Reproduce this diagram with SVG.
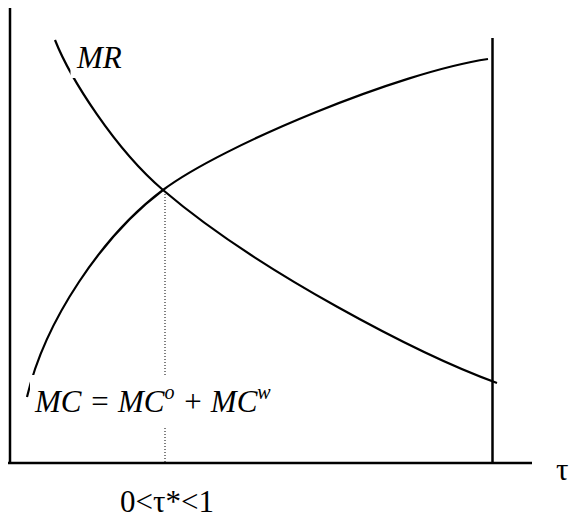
<svg xmlns="http://www.w3.org/2000/svg" width="572" height="521" viewBox="0 0 572 521">
<style>
.ax{stroke:#000;stroke-width:2.5;fill:none}
.cv{stroke:#000;stroke-width:2.2;fill:none}
.dot{stroke:#000;stroke-width:1;stroke-dasharray:1,2;fill:none}
text{font-family:"Liberation Serif","Times New Roman",serif;font-size:31px;fill:#000}
.i{font-style:italic}
</style>
<g id="axes">
<line class="ax" x1="10" y1="8" x2="10" y2="464"/>
<line class="ax" x1="8" y1="463" x2="532" y2="463"/>
<line class="ax" x1="492.5" y1="38" x2="492.5" y2="463"/>
</g>
<g id="connectors">
<path id="mr" class="cv" d="M55,40 C70,78 115,149 163,190 C259,272 420,355 497,383"/>
<path id="mc" class="cv" d="M27,397 C45,320 103,235 163,190 C223,145 400,72 488,59"/>
<line class="dot" x1="165" y1="191" x2="165" y2="463"/>
</g>
<g id="masks" fill="#fff">
<rect x="70.5" y="44" width="60" height="34"/>
<rect x="30" y="375" width="250" height="52"/>
</g>
<g id="label-mr"><text class="i" x="77" y="68">MR</text></g>
<g id="label-mc"><text class="i" x="35" y="412">MC = MC<tspan font-size="20" dy="-13">o</tspan><tspan dy="13"> + MC</tspan><tspan font-size="20" dy="-13">w</tspan></text></g>
<g id="label-tau"><text x="556" y="480">τ</text></g>
<g id="label-star"><text x="120" y="512">0&lt;τ*&lt;1</text></g>
</svg>
